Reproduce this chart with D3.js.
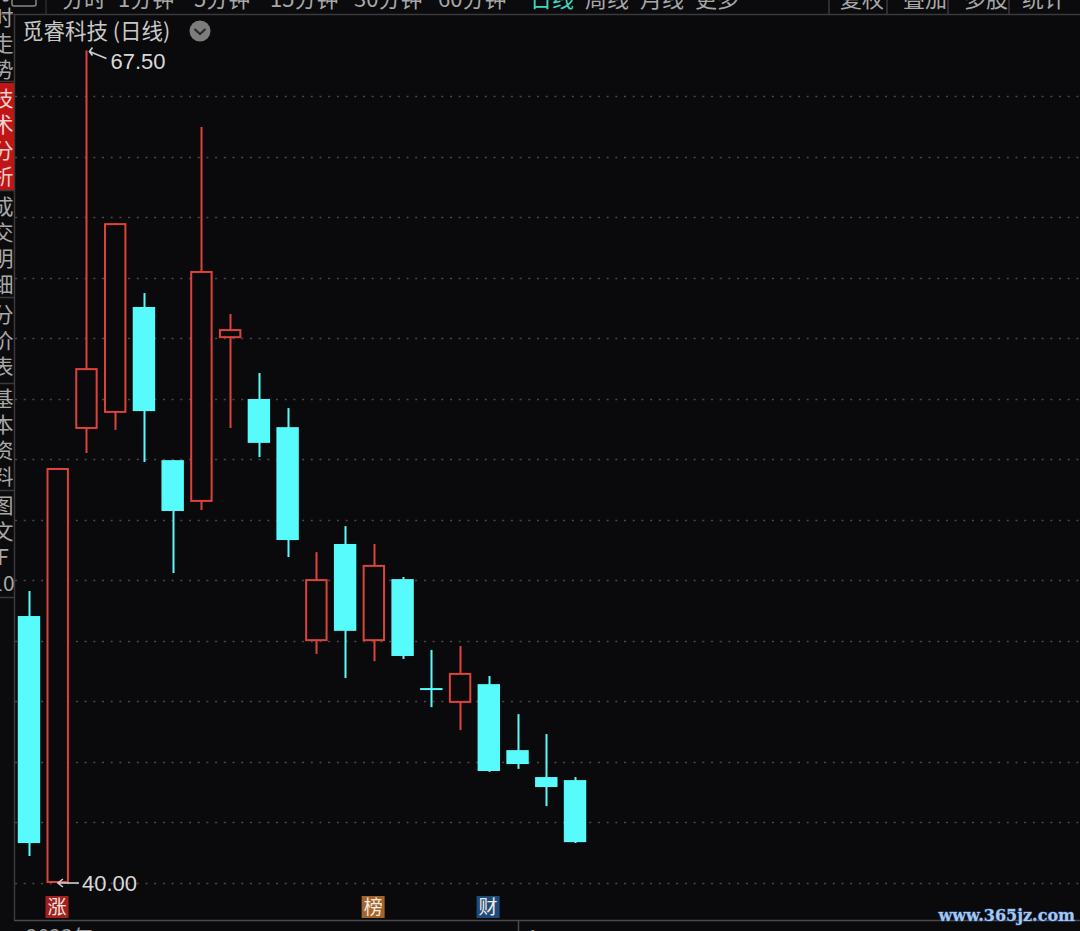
<!DOCTYPE html>
<html><head><meta charset="utf-8">
<script src="https://cdn.jsdelivr.net/npm/d3@7/dist/d3.min.js"></script>
<style>
html,body{margin:0;padding:0;background:#0a0a0c;}
svg{display:block;}
</style></head>
<body><svg id="c" width="1080" height="931"></svg>
<script>
// ---- data ----
const days = d3.range(1, 21).map(i => "D" + i);
const open  = [48.82, 40.00, 55.00, 55.53, 59.03, 53.97, 52.59, 58.00, 55.99, 55.06, 47.99, 51.20, 47.99, 50.04, 46.44, 45.95, 46.57, 44.39, 43.50, 43.40];
const close = [41.32, 53.71, 57.01, 61.80, 55.59, 52.29, 60.22, 58.30, 54.54, 51.33, 50.04, 48.33, 50.51, 47.50, 46.38, 46.94, 43.70, 43.93, 43.17, 41.35];
const high  = [49.65, 53.71, 67.50, 61.80, 59.49, 53.97, 64.98, 58.80, 56.85, 55.69, 50.93, 51.79, 51.20, 50.11, 47.70, 47.83, 46.84, 45.58, 44.92, 43.50];
const low   = [40.89, 40.00, 54.21, 54.97, 53.91, 50.24, 52.32, 55.03, 54.07, 50.77, 47.57, 46.77, 47.33, 47.40, 45.81, 45.05, 43.67, 43.77, 42.54, 41.32];
const gridTicks = d3.range(40, 67, 2);
const topMenu = ["分时","1分钟","5分钟","15分钟","30分钟","60分钟","日线","周线","月线","更多"];
const rightMenu = ["复权","叠加","多股","统计"];
const sideMenu = ["分时走势","技术分析","成交明细","分价表","基本资料","图文F10"];
const title = "觅睿科技 (日线)";
const maxLabel = "67.50", minLabel = "40.00";
const badges = [{t:"涨", i:1, c:"#a3201f"}, {t:"榜", i:12, c:"#a0652b"}, {t:"财", i:16, c:"#1d4c7c"}];

// ---- drawing ----
const svg = d3.select("#c");
const W = 1080, H = 931;
const RED = "#dc433c", CYAN = "#57fbfb";
const FONT = "'Noto Sans CJK SC','Noto Sans',sans-serif";

svg.append("rect").attr("width", W).attr("height", H).attr("fill", "#0a0a0c");

const y = d3.scaleLinear().domain([40, 67.5]).range([883, 50.6]);
const x = d3.scaleBand().domain(days).range([14.6, 14.6 + 28.74 * days.length]).paddingInner(0.22).paddingOuter(0.11);

// grid
svg.append("g").selectAll("line").data(gridTicks).join("line")
  .attr("x1", 15).attr("x2", W).attr("y1", d => Math.round(y(d)) + 0.5).attr("y2", d => Math.round(y(d)) + 0.5)
  .attr("stroke", "#4a4a4e").attr("stroke-width", 1.6).attr("stroke-dasharray", "2,6.7");

// top toolbar
const tb = svg.append("g");
tb.append("rect").attr("x", 0).attr("y", 0).attr("width", W).attr("height", 14).attr("fill", "#0b0b0d");
tb.append("line").attr("x1", 0).attr("x2", W).attr("y1", 14.5).attr("y2", 14.5).attr("stroke", "#3a3a3e").attr("stroke-width", 1.5);
tb.append("rect").attr("x", 12).attr("y", -10).attr("width", 24).attr("height", 16).attr("rx", 2).attr("fill", "none").attr("stroke", "#888").attr("stroke-width", 1.5);
tb.append("line").attr("x1", 46).attr("x2", 46).attr("y1", 0).attr("y2", 14).attr("stroke", "#3a3a3e");
const menuX = [62, 118, 194, 270, 354, 438, 530, 585, 640, 695];
topMenu.forEach((t, i) => {
  tb.append("text").attr("x", menuX[i]).attr("y", 7).attr("font-family", FONT).attr("font-size", 22)
    .attr("fill", t === "日线" ? "#3fd6c0" : "#a8a8a8").text(t);
});
const rX = [840, 903, 964, 1022];
[829, 887, 948, 1009].forEach(v => tb.append("line").attr("x1", v).attr("x2", v).attr("y1", 0).attr("y2", 14).attr("stroke", "#3a3a3e").attr("stroke-width", 1.5));
rightMenu.forEach((t, i) => {
  tb.append("text").attr("x", rX[i]).attr("y", 7).attr("font-family", FONT).attr("font-size", 22).attr("fill", "#a8a8a8").text(t);
});

// left sidebar
const sb = svg.append("g");
sb.append("rect").attr("x", 0).attr("y", 15).attr("width", 14).attr("height", H - 15).attr("fill", "#0b0b0d");
sb.append("line").attr("x1", 14.5).attr("x2", 14.5).attr("y1", 15).attr("y2", 920).attr("stroke", "#3a3a3e").attr("stroke-width", 1.5);
const sideB = [[-22, 81], [83, 190], [192, 297], [297, 383], [384, 490], [490, 597]];
sideMenu.forEach((t, i) => {
  const [a, b] = sideB[i];
  if (i === 1) sb.append("rect").attr("x", 0).attr("y", a).attr("width", 14).attr("height", b - a).attr("fill", "#c01515");
  sb.append("line").attr("x1", 0).attr("x2", 14).attr("y1", b + 0.5).attr("y2", b + 0.5).attr("stroke", "#3a3a3e").attr("stroke-width", 1.5);
  const chars = Array.from(t === "图文F10" ? ["图","文","F","10"] : t);
  const n = chars.length;
  const step = 26;
  const mid = (a + b) / 2;
  chars.forEach((ch, k) => {
    sb.append("text").attr("x", 3).attr("y", mid + (k - (n - 1) / 2) * step + 8)
      .attr("text-anchor", "middle").attr("font-family", FONT).attr("font-size", 21)
      .attr("fill", i === 1 ? "#f2d0d0" : "#a8a8a8").text(ch);
  });
});

// title
svg.append("text").attr("x", 22).attr("y", 39).attr("font-family", FONT).attr("font-size", 21.5).attr("fill", "#c8c8c8").text(title);
svg.append("circle").attr("cx", 200).attr("cy", 31).attr("r", 10.5).attr("fill", "#7c7c7c");
svg.append("path").attr("d", "M194.5,29 L200,34 L205.5,29").attr("fill", "none").attr("stroke", "#2a2a2a").attr("stroke-width", 2.2);

// candles
const data = days.map((d, i) => ({d, o: open[i], c: close[i], h: high[i], l: low[i]}));
const g = svg.append("g");
const cx = d => x(d.d) + x.bandwidth() / 2;
g.selectAll("line.wick").data(data).join("line").attr("class", "wick")
  .attr("x1", d => Math.round(cx(d)) + 0.5).attr("x2", d => Math.round(cx(d)) + 0.5)
  .attr("y1", d => y(d.h)).attr("y2", d => y(d.l))
  .attr("stroke", d => d.c >= d.o ? RED : CYAN).attr("stroke-width", 2);
g.selectAll("rect.body").data(data).join("rect").attr("class", "body")
  .attr("x", d => d.c >= d.o ? x(d.d) + 1 : x(d.d))
  .attr("width", d => d.c >= d.o ? x.bandwidth() - 2 : x.bandwidth())
  .attr("y", d => y(Math.max(d.o, d.c)) + (d.c >= d.o ? 1 : 0))
  .attr("height", d => Math.max(2, Math.abs(y(d.o) - y(d.c)) - (d.c >= d.o ? 2 : 0)))
  .attr("fill", d => d.c >= d.o ? "#0a0a0c" : CYAN)
  .attr("stroke", d => d.c >= d.o ? RED : "none").attr("stroke-width", 2);

// max / min labels
const iMax = d3.maxIndex(high), iMin = d3.minIndex(low);
const mx = cx(data[iMax]), my = y(high[iMax]);
const ann = svg.append("g").attr("stroke", "#d0d0d0").attr("stroke-width", 1.6).attr("fill", "none");
ann.append("line").attr("x1", mx + 20).attr("y1", my + 8).attr("x2", mx + 3).attr("y2", my + 1);
ann.append("path").attr("d", `M${mx + 6},${my - 3} L${mx + 3},${my + 1} L${mx + 6},${my + 5}`);
svg.append("text").attr("x", mx + 24).attr("y", my + 18).attr("font-family", "'Liberation Sans',Arial,sans-serif")
  .attr("font-size", 22).attr("fill", "#d8d8d8").text(maxLabel);
const nx = x(data[iMin].d) + x.bandwidth() - 11, ny = y(low[iMin]);
ann.append("line").attr("x1", nx).attr("y1", ny).attr("x2", nx + 21).attr("y2", ny);
ann.append("path").attr("d", `M${nx + 5},${ny - 4} L${nx},${ny} L${nx + 5},${ny + 4}`);
svg.append("text").attr("x", nx + 24).attr("y", ny + 8).attr("font-family", "'Liberation Sans',Arial,sans-serif")
  .attr("font-size", 22).attr("fill", "#d8d8d8").text(minLabel);

// badges
badges.forEach(b => {
  const bx = x(days[b.i]);
  svg.append("rect").attr("x", bx - 1).attr("y", 896).attr("width", 23).attr("height", 22).attr("fill", b.c);
  svg.append("text").attr("x", bx + 10.5).attr("y", 914).attr("text-anchor", "middle").attr("font-family", FONT)
    .attr("font-size", 19).attr("fill", "#f4e8e0").text(b.t);
});

// bottom axis strip
svg.append("line").attr("x1", 14).attr("x2", W).attr("y1", 920.5).attr("y2", 920.5).attr("stroke", "#4a4a4e").attr("stroke-width", 1.5);
svg.append("line").attr("x1", 518.5).attr("x2", 518.5).attr("y1", 920).attr("y2", 931).attr("stroke", "#4a4a4e").attr("stroke-width", 1.5);
svg.append("text").attr("x", 26).attr("y", 945).attr("font-family", FONT).attr("font-size", 21).attr("fill", "#9a9a9a").text("2023年");
svg.append("text").attr("x", 525).attr("y", 945).attr("font-family", FONT).attr("font-size", 21).attr("fill", "#9a9a9a").text("4");

// watermark
svg.append("text").attr("x", 1075).attr("y", 921).attr("text-anchor", "end").attr("font-family", "'DejaVu Serif',serif")
  .attr("font-weight", "bold").attr("font-size", 16).attr("fill", "#a6c8f0").attr("stroke", "#2b4f86").attr("stroke-width", 1)
  .attr("paint-order", "stroke").text("www.365jz.com");
</script>
</body></html>
